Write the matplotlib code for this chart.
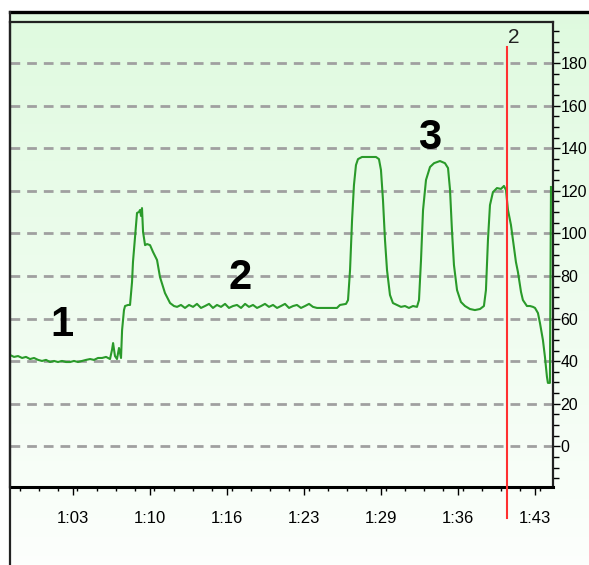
import numpy as np
import matplotlib
matplotlib.use('Agg')
import matplotlib.pyplot as plt
from matplotlib.lines import Line2D
from matplotlib.ticker import MultipleLocator, FixedLocator

plt.rcParams['font.family'] = ['Liberation Sans', 'DejaVu Sans']

# trace (time in minutes, value)
times = [57.68, 58.02, 58.36, 58.70, 59.03, 59.37, 59.71, 60.05, 60.38, 60.72,
         61.06, 61.40, 61.73, 62.07, 62.41, 62.75, 63.08, 63.42, 63.76, 64.10,
         64.44, 64.77, 65.11, 65.45, 65.79, 66.12, 66.29, 66.38, 66.54, 66.71,
         66.88, 67.05, 67.14, 67.30, 67.39, 67.64, 67.81, 67.98, 68.06, 68.23,
         68.40, 68.57, 68.65, 68.74, 68.82, 68.91, 69.08, 69.25, 69.50, 69.75,
         70.09, 70.34, 70.76, 71.19, 71.52, 71.78,
         72.11, 72.45, 72.79, 73.13, 73.46, 73.80, 74.14, 74.48, 74.81, 75.15,
         75.49, 75.83, 76.16, 76.50, 76.84, 77.18, 77.52, 77.85, 78.19, 78.53,
         78.87, 79.20, 79.54, 79.88, 80.22, 80.55, 80.89, 81.23, 81.57, 81.90,
         82.24, 82.58, 82.92, 83.25, 83.59, 85.28, 85.53, 86.04, 86.21, 86.38,
         86.55, 86.71, 86.88, 87.05, 87.39, 88.06, 88.57, 88.82, 88.99, 89.16,
         89.33, 89.50, 89.75, 90.00, 90.34, 90.68, 91.02, 91.35, 91.69, 92.03,
         92.20, 92.37, 92.54, 92.79, 93.13, 93.47, 93.97, 94.39, 94.65, 94.82,
         94.98, 95.15, 95.41, 95.74, 96.08, 96.50, 96.92, 97.35, 97.68, 97.85,
         98.02, 98.19, 98.44, 98.78, 99.12, 99.37, 99.54, 99.71, 99.96, 100.13,
         100.38, 100.55, 100.81, 100.97, 101.31, 101.57, 101.82, 101.99, 102.24, 102.41,
         102.66, 102.83, 103.00, 103.08, 103.25, 103.34]
values = [42.9, 42.0, 42.4, 41.5, 42.0, 41.0, 41.5, 40.6, 40.1, 40.6,
          39.6, 40.1, 39.6, 40.1, 39.6, 39.6, 40.1, 39.6, 40.1, 40.6,
          41.0, 40.6, 41.5, 41.5, 42.0, 41.0, 45.3, 48.5, 42.4, 41.0,
          46.2, 41.5, 54.6, 64.0, 65.9, 66.4, 66.4, 77.2, 86.6, 97.8,
          109.6, 110.1, 111.0, 108.2, 111.9, 100.7, 94.5, 95.0, 94.5, 91.3,
          87.5, 79.5, 72.0, 67.3, 65.9, 65.5,
          66.4, 65.0, 66.4, 65.5, 66.9, 65.0, 65.9, 66.9, 65.0, 66.4,
          65.5, 66.9, 65.0, 65.9, 66.4, 65.0, 66.9, 65.5, 66.4, 65.0,
          65.9, 66.9, 65.5, 66.4, 65.0, 65.9, 66.9, 65.0, 65.9, 66.4,
          65.0, 65.9, 66.9, 65.5, 65.0, 65.0, 66.4, 66.9, 68.7, 82.8,
          106.3, 122.7, 132.1, 134.9, 135.9, 135.9, 135.9, 134.9, 129.8, 115.7,
          96.9, 82.8, 71.1, 67.3, 66.4, 65.5, 65.9, 65.0, 65.9, 65.5,
          68.7, 87.5, 110.9, 125.1, 131.2, 133.0, 134.0, 133.0, 130.7, 120.4,
          101.6, 85.2, 73.4, 67.8, 65.9, 64.5, 64.0, 64.5, 65.9, 73.4,
          96.9, 113.3, 119.4, 121.3, 120.9, 122.3, 120.4, 111.0, 104.0, 96.9,
          86.6, 81.9, 72.5, 68.7, 65.9, 65.9, 65.5, 65.0, 62.6, 57.9,
          49.9, 42.0, 32.6, 29.8, 29.8, 121.8]

x_ticks = [63.0, 69.5, 76.0, 82.5, 89.0, 95.5, 102.0]
x_labels = ['1:03', '1:10', '1:16', '1:23', '1:29', '1:36', '1:43']
y_ticks = [0, 20, 40, 60, 80, 100, 120, 140, 160, 180]

marker_time = 99.62
marker_name = '2'

notes = ['1', '2', '3']
note_times = [62.07, 77.09, 93.13]
note_values = [57.0, 79.1, 144.8]

fig = plt.figure(figsize=(5.89, 5.65), dpi=100)
fig.patch.set_facecolor('white')

# green gradient background inside the outer frame
bg = fig.add_axes([10 / 589, 0, 579 / 589, 553 / 565], zorder=0)
grad = np.linspace(0, 1, 256).reshape(-1, 1)
top_c = np.array([0.875, 0.98, 0.875])
bot_c = np.array([0.99, 1.0, 0.99])
img = top_c[None, None, :] * (1 - grad[:, :, None]) + bot_c[None, None, :] * grad[:, :, None]
bg.imshow(img, aspect='auto', extent=[0, 1, 0, 1])
bg.axis('off')

ax = fig.add_axes([10 / 589, 1 - 487 / 565, 543 / 589, 465 / 565], zorder=1)
ax.set_facecolor('none')

ax.plot(times, values, color='#2a9a2a', lw=1.5, zorder=3)

ax.set_xlim(57.68, 103.51)
ax.set_ylim(-19.1, 199.3)

ax.yaxis.tick_right()
ax.yaxis.set_major_locator(FixedLocator(y_ticks))
ax.yaxis.set_minor_locator(MultipleLocator(5))
ax.set_yticklabels([str(v) for v in y_ticks])
ax.xaxis.set_major_locator(FixedLocator(x_ticks))
ax.xaxis.set_minor_locator(MultipleLocator(1.625))
ax.set_xticklabels(x_labels)

ax.tick_params(axis='y', which='major', length=5, width=1, pad=0.5, labelsize=11.5, right=True, left=False)
ax.tick_params(axis='y', which='minor', length=4, width=1, right=True, left=False)
ax.tick_params(axis='x', which='major', length=6, width=1, pad=11, labelsize=12)
ax.tick_params(axis='x', which='minor', length=3, width=1)

ax.grid(axis='y', which='major', color='#a0a0a0', lw=2, linestyle=(0, (3.5, 2.5)))

for side in ['left', 'top', 'right']:
    ax.spines[side].set_color('#222222')
    ax.spines[side].set_linewidth(1.6)
ax.spines['bottom'].set_color('black')
ax.spines['bottom'].set_linewidth(2.2)

# cursor marker
ax.plot([marker_time, marker_time], [187.5, -33.8], color='#ff3030', lw=1.5, clip_on=False, zorder=4)
ax.text(marker_time + 0.1, 187.5, marker_name, fontsize=15, ha='left', va='bottom', color='#222222')

for s, t, v in zip(notes, note_times, note_values):
    ax.text(t, v, s, fontsize=30, fontweight='bold', ha='center', va='center', color='black', zorder=5)

# outer frame lines
fig.add_artist(Line2D([10 / 589, 1.0], [1 - 12 / 565, 1 - 12 / 565], color='black', lw=2.4, transform=fig.transFigure))
fig.add_artist(Line2D([10 / 589, 10 / 589], [0, 1 - 12 / 565], color='#222222', lw=1.6, transform=fig.transFigure))

fig.savefig('out.png', dpi=100)
